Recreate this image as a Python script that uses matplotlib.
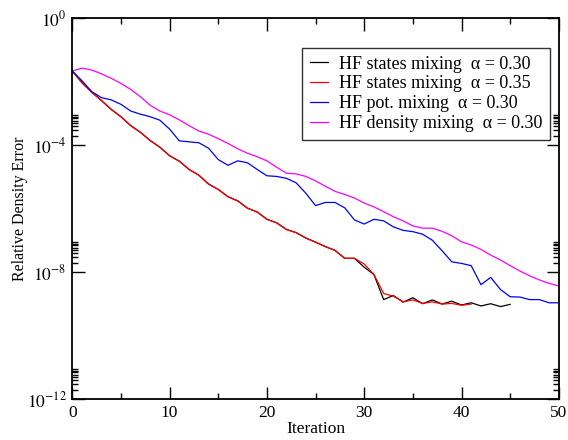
import numpy as np
import matplotlib
matplotlib.use("Agg")
import matplotlib.pyplot as plt
from matplotlib.ticker import FixedLocator, NullFormatter

plt.rcParams['font.family'] = ['Liberation Serif', 'DejaVu Serif']
plt.rcParams['mathtext.fontset'] = 'stix'

# log10 of relative density error
states_030_log10 = [-1.66, -2.03, -2.33, -2.59, -2.87, -3.10, -3.38, -3.59, -3.85, -4.06,
                    -4.33, -4.50, -4.76, -4.94, -5.22, -5.39, -5.62, -5.75, -5.98, -6.10,
                    -6.33, -6.44, -6.65, -6.75, -6.92, -7.05, -7.19, -7.31, -7.56, -7.56,
                    -7.84, -8.07, -8.86, -8.73, -8.94, -8.80, -8.99, -8.87, -9.00, -8.91,
                    -9.03, -8.96, -9.06, -8.99, -9.08, -9.01]
states_035_log10 = [-1.66, -2.03, -2.33, -2.59, -2.87, -3.10, -3.38, -3.59, -3.85, -4.06,
                    -4.33, -4.50, -4.76, -4.94, -5.22, -5.39, -5.62, -5.75, -5.98, -6.10,
                    -6.33, -6.44, -6.65, -6.75, -6.92, -7.05, -7.19, -7.31, -7.56, -7.56,
                    -7.74, -8.07, -8.67, -8.75, -8.93, -8.87, -8.98, -8.93, -9.00, -8.98,
                    -9.04, -9.00]
pot_030_log10 = [-1.66, -1.97, -2.31, -2.50, -2.57, -2.71, -2.92, -3.02, -3.10, -3.21,
                 -3.49, -3.86, -3.89, -3.92, -4.09, -4.45, -4.63, -4.49, -4.55, -4.76,
                 -4.96, -4.98, -5.04, -5.18, -5.51, -5.90, -5.80, -5.80, -5.97, -6.35,
                 -6.48, -6.33, -6.38, -6.57, -6.68, -6.72, -6.80, -6.99, -7.32, -7.67,
                 -7.72, -7.79, -8.39, -8.16, -8.54, -8.77, -8.78, -8.86, -8.86, -8.96,
                 -8.96]
density_030_log10 = [-1.66, -1.57, -1.63, -1.75, -1.89, -2.05, -2.24, -2.47, -2.74, -2.92,
                     -3.04, -3.20, -3.38, -3.55, -3.65, -3.79, -3.94, -4.11, -4.25, -4.36,
                     -4.49, -4.69, -4.88, -4.90, -4.98, -5.12, -5.29, -5.45, -5.55, -5.66,
                     -5.82, -5.94, -6.09, -6.25, -6.38, -6.54, -6.61, -6.61, -6.71, -6.85,
                     -7.04, -7.14, -7.28, -7.46, -7.61, -7.79, -7.96, -8.11, -8.24, -8.35,
                     -8.43]

labels = ["HF states mixing  \u03b1 = 0.30",
          "HF states mixing  \u03b1 = 0.35",
          "HF pot. mixing  \u03b1 = 0.30",
          "HF density mixing  \u03b1 = 0.30"]
colors = ["#000000", "#ff0000", "#0000ff", "#ff00ff"]
series = [states_030_log10, states_035_log10, pot_030_log10, density_030_log10]

x_ticks = [0, 10, 20, 30, 40, 50]
y_ticks = [1e-12, 1e-8, 1e-4, 1e0]
y_tick_labels = [r'$10^{-12}$', r'$10^{-8}$', r'$10^{-4}$', r'$10^{0}$']

fig = plt.figure(figsize=(5.68, 4.40), dpi=100)
ax = fig.add_axes([0.1273, 0.0925, 0.8565, 0.8659])

for vals, c, lab in zip(series, colors, labels):
    it = np.arange(len(vals))
    ax.plot(it, np.power(10.0, vals), color=c, lw=0.9, label=lab)

ax.set_yscale('log')
ax.set_xlim(0, 50)
ax.set_ylim(1e-12, 1e0)

ax.set_xticks(x_ticks)
ax.set_xticklabels([str(t) for t in x_ticks])
ax.xaxis.set_minor_locator(FixedLocator([5, 15, 25, 35, 45]))
ax.set_yticks(y_ticks)
ax.set_yticklabels(y_tick_labels)
minor_y = [m * d for d in (1e-12, 1e-8, 1e-4) for m in range(2, 10)]
ax.yaxis.set_minor_locator(FixedLocator(minor_y))
ax.yaxis.set_minor_formatter(NullFormatter())

ax.tick_params(which='both', direction='in', top=True, right=True, width=1.0,
               labelsize=12.5, pad=4)
ax.tick_params(which='major', length=9)
ax.tick_params(which='minor', length=4.5)
for sp in ax.spines.values():
    sp.set_linewidth(1.3)

ax.set_xlabel("Iteration", fontsize=12.5, labelpad=0)
ax.set_ylabel("Relative Density Error", fontsize=11.5, labelpad=-1)

leg = ax.legend(loc='upper left', bbox_to_anchor=(0.472, 0.923), fontsize=13.0,
                frameon=True, fancybox=False, handlelength=1.0, handletextpad=0.6,
                borderpad=0.45, labelspacing=0.15, borderaxespad=0.0)
leg.get_frame().set_edgecolor('black')
leg.get_frame().set_linewidth(1.0)

fig.savefig("out.png", dpi=100)
